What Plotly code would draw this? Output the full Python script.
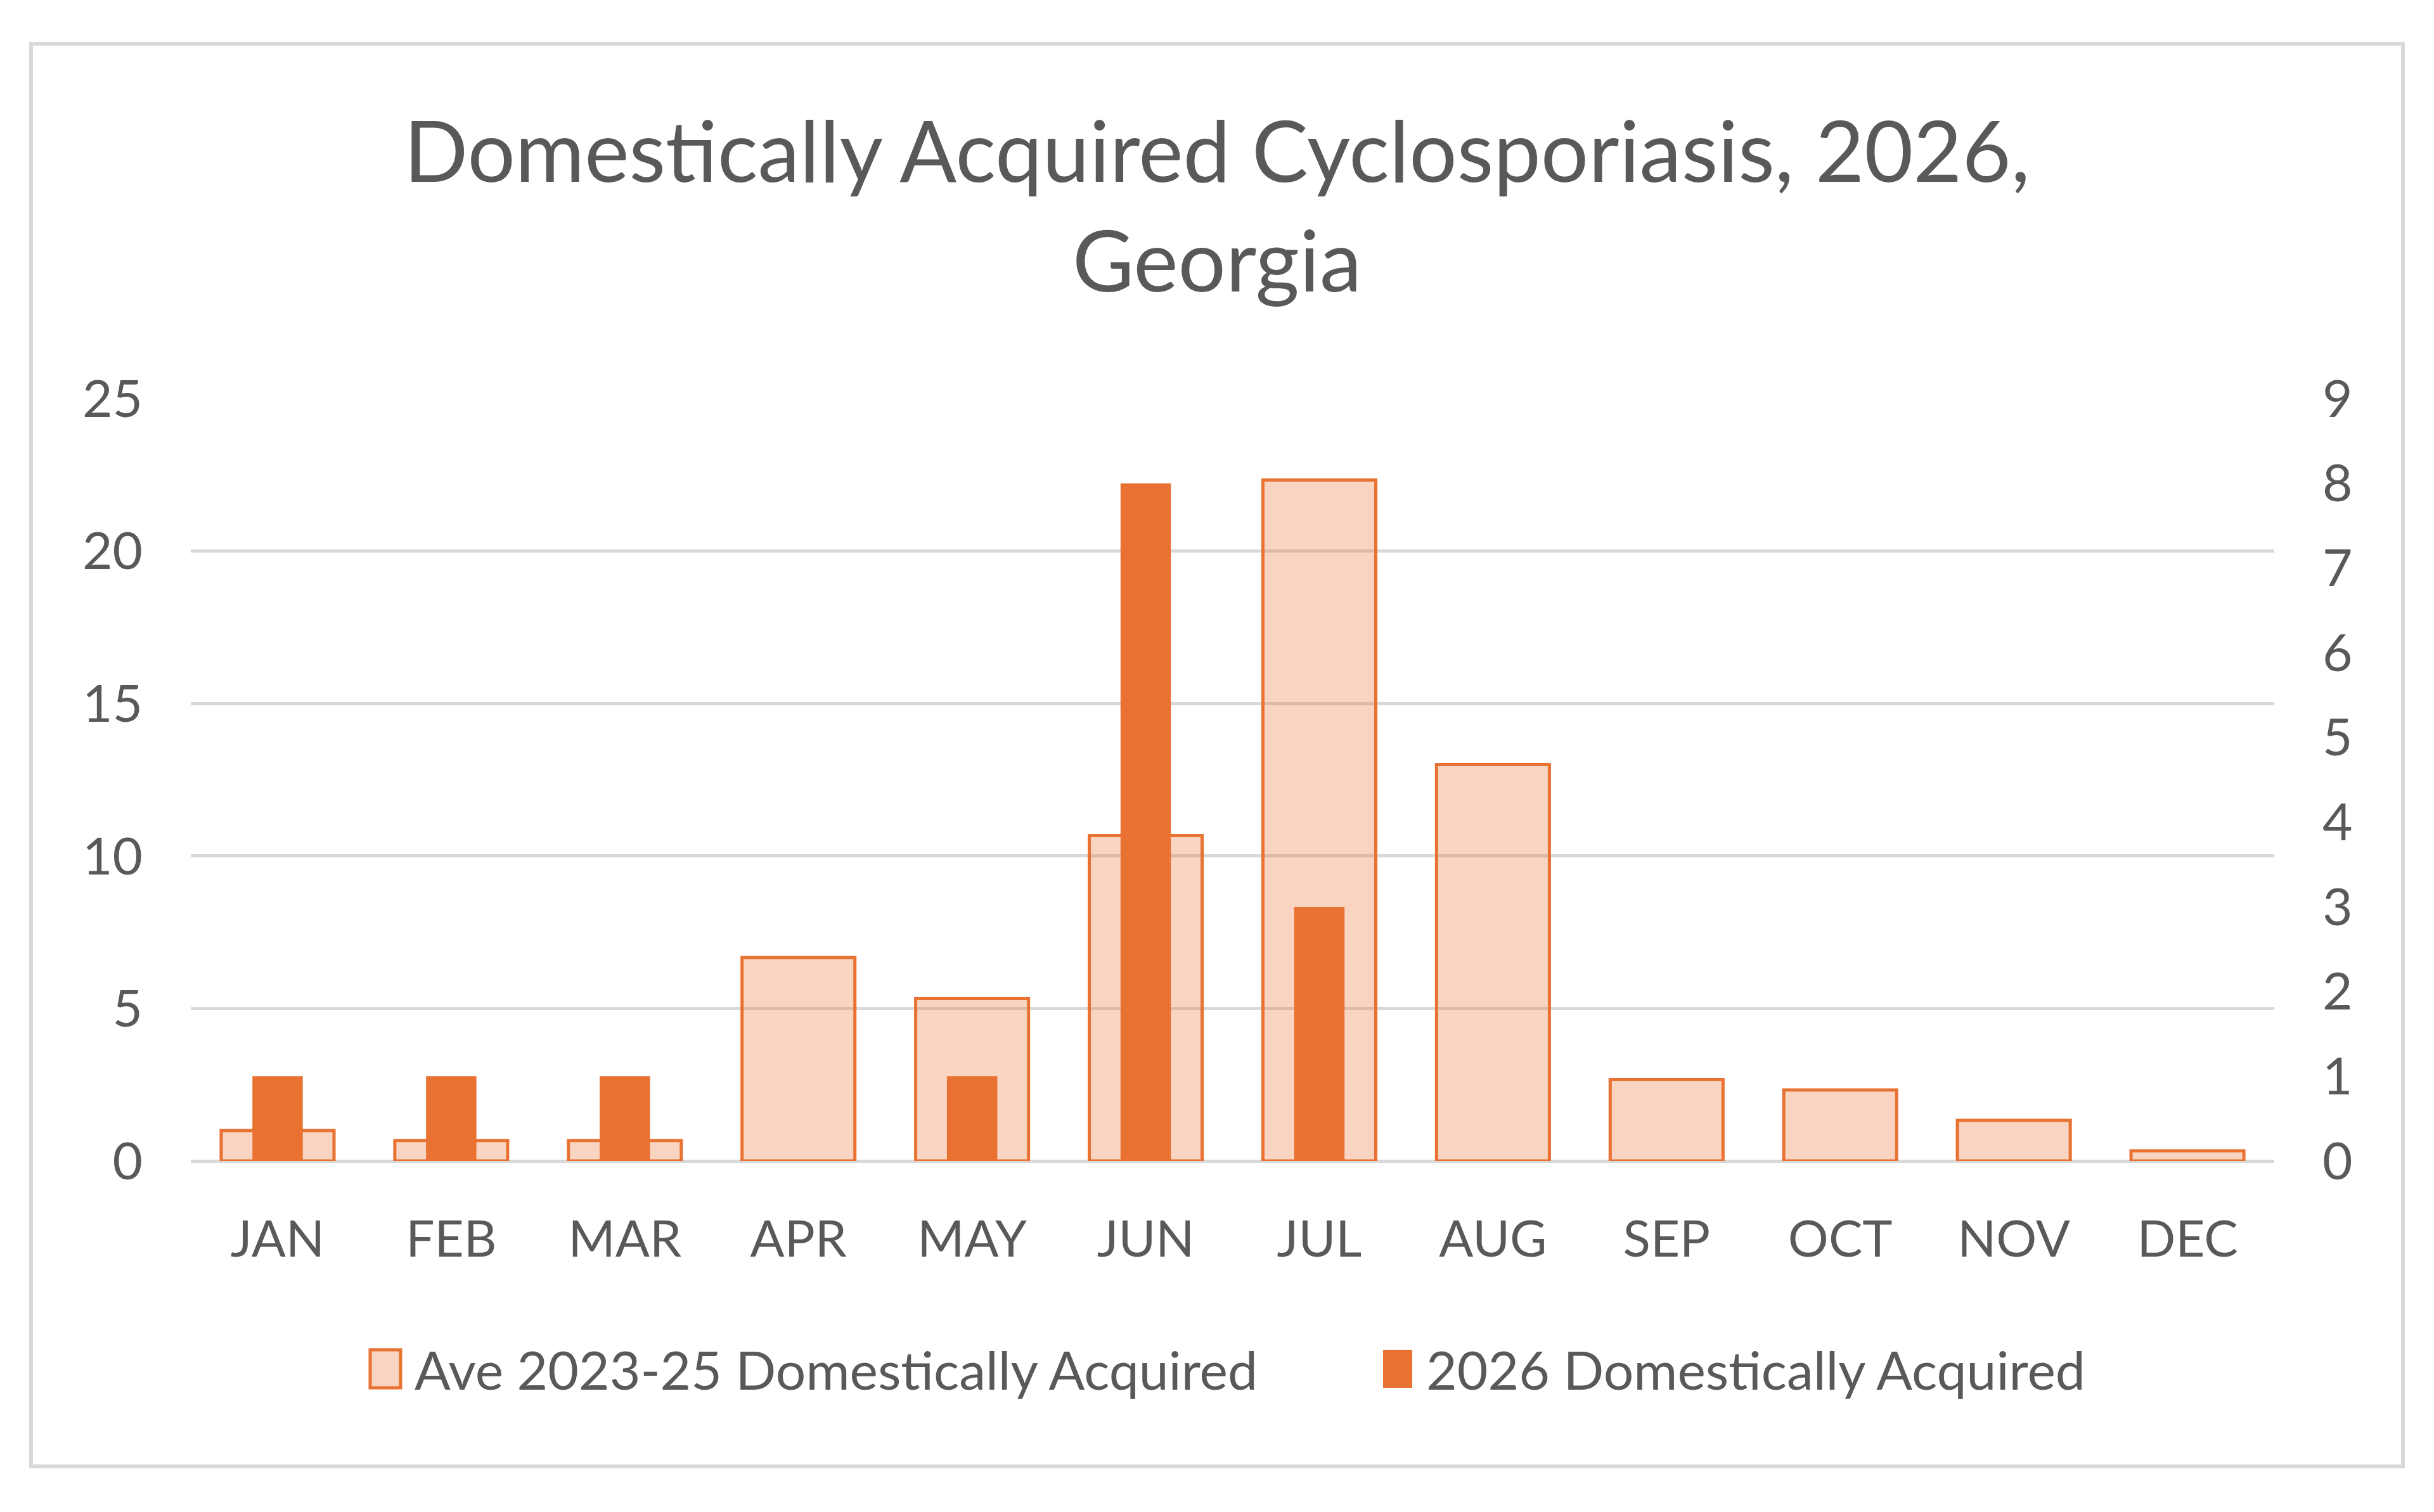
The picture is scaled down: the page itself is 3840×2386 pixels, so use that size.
import plotly.graph_objects as go

months = ["JAN", "FEB", "MAR", "APR", "MAY", "JUN", "JUL", "AUG", "SEP", "OCT", "NOV", "DEC"]
ave_2023_25 = [1.0, 0.67, 0.67, 6.67, 5.33, 10.67, 22.33, 13.0, 2.67, 2.33, 1.33, 0.33]
cases_2026 = [1, 1, 1, 0, 1, 8, 3, 0, 0, 0, 0, 0]
name_ave = "Ave 2023-25 Domestically Acquired"
name_2026 = "2026 Domestically Acquired"
title_text = "Domestically Acquired Cyclosporiasis, 2026,<br>Georgia"

W, H = 3840, 2386
L, R, T, B = 301, 3588, 629, 1832  # plot area in pixels
PW, PH = R - L, B - T

def px(x):
    return (x - L) / PW

def py(y):
    return (B - y) / PH

ORANGE = "#E97132"
FONT = "Lato, Open Sans, sans-serif"
GREY = "#595959"

fig = go.Figure()
fig.add_trace(go.Bar(
    x=months, y=ave_2023_25, name=name_ave, yaxis="y", width=0.65,
    marker=dict(color="rgba(233,113,50,0.30)", line=dict(color=ORANGE, width=5)),
    showlegend=False,
))
fig.add_trace(go.Bar(
    x=months, y=cases_2026, name=name_2026, yaxis="y2", width=0.29,
    marker=dict(color=ORANGE, line=dict(width=0)),
    showlegend=False,
))

shapes = [
    dict(type="rect", xref="paper", yref="paper", x0=px(49), x1=px(3791), y0=py(2314), y1=py(69),
         line=dict(color="#D9D9D9", width=6), fillcolor="rgba(0,0,0,0)", layer="below"),
    # legend swatches
    dict(type="rect", xref="paper", yref="paper", x0=px(584), x1=px(632), y0=py(2190), y1=py(2130),
         line=dict(color=ORANGE, width=5), fillcolor="rgba(233,113,50,0.30)"),
    dict(type="rect", xref="paper", yref="paper", x0=px(2182), x1=px(2228), y0=py(2190), y1=py(2130),
         line=dict(width=0), fillcolor=ORANGE),
]
annotations = [
    dict(text=name_ave, xref="paper", yref="paper", x=px(652), y=py(2160), xanchor="left", yanchor="middle",
         showarrow=False, font=dict(family=FONT, size=84, color=GREY)),
    dict(text=name_2026, xref="paper", yref="paper", x=px(2248), y=py(2160), xanchor="left", yanchor="middle",
         showarrow=False, font=dict(family=FONT, size=84, color=GREY)),
]

fig.update_layout(
    width=W, height=H,
    margin=dict(l=L, r=W - R, t=T, b=H - B),
    paper_bgcolor="white", plot_bgcolor="white",
    barmode="overlay",
    title=dict(text=title_text, x=0.5, xref="container", xanchor="center",
               y=1 - 287 / H, yref="container", yanchor="middle",
               font=dict(family=FONT, size=133, color=GREY)),
    xaxis=dict(type="category", showgrid=False, showline=False, ticks="",
               tickfont=dict(family=FONT, size=80, color=GREY), ticklabelstandoff=70),
    yaxis=dict(range=[0, 25], dtick=5, showgrid=True, gridcolor="#D9D9D9", gridwidth=5,
               zeroline=True, zerolinecolor="#D9D9D9", zerolinewidth=5, showline=False, ticks="",
               tickfont=dict(family=FONT, size=82, color=GREY), ticklabelstandoff=75),
    yaxis2=dict(range=[0, 9], dtick=1, overlaying="y", side="right", showgrid=False, zeroline=False,
                showline=False, ticks="", tickfont=dict(family=FONT, size=82, color=GREY),
                ticklabelstandoff=75),
    shapes=shapes, annotations=annotations,
)

fig.write_html("out.html")
